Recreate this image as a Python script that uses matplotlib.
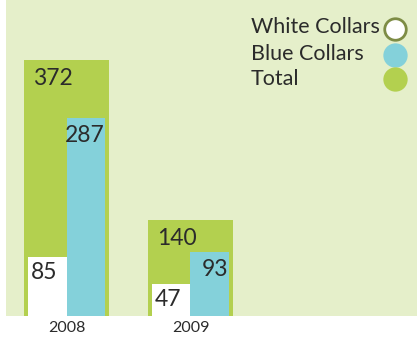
import matplotlib
matplotlib.use("Agg")
import matplotlib.pyplot as plt
import numpy as np

# Data
years = ["2008", "2009"]
total = [372, 140]
blue_collars = [287, 93]
white_collars = [85, 47]
series_names = ["White Collars", "Blue Collars", "Total"]

# Styling
BG = "#e5efca"
GREEN = "#b3d04f"
BLUE = "#84d1da"
WHITE = "#ffffff"
EDGE = "#7d8c45"
TXT = "#2b2b2b"
FONT = "Lato"

W, H = 417, 337
fig = plt.figure(figsize=(W / 100, H / 100), dpi=100, facecolor="white")
ax = fig.add_axes([6 / W, (H - 316) / H, 411 / W, 316 / H])
ax.set_facecolor(BG)

x = np.arange(len(years))
total_w = 0.685
inner_w = 0.314
off = 0.157

ax.bar(x, total, width=total_w, color=GREEN, zorder=1)
ax.bar(x - off, white_collars, width=inner_w, color=WHITE, zorder=2)
ax.bar(x + off, blue_collars, width=inner_w, color=BLUE, zorder=2)

px = 0.72  # points per pixel at 100 dpi
num_kw = dict(fontsize=16.5, color=TXT, family=FONT, va="baseline",
              textcoords="offset points", zorder=3)
for i in range(len(years)):
    ax.annotate(str(total[i]), (x[i], total[i]), xytext=(6 * px, -25 * px),
                ha="right", **num_kw)
    ax.annotate(str(blue_collars[i]), (x[i] + off + inner_w / 2, blue_collars[i]),
                xytext=(-1 * px, -24 * px), ha="right", **num_kw)
    ax.annotate(str(white_collars[i]), (x[i] - off - inner_w / 2, white_collars[i]),
                xytext=(3 * px, -22 * px), ha="left", **num_kw)

ax.set_xlim(-0.488, 2.827)
ax.set_ylim(0, 459)
ax.set_xticks(x)
ax.set_xticklabels(years, fontsize=11.5, color=TXT, family=FONT)
ax.tick_params(axis="x", length=0, pad=3.5)
ax.set_yticks([])
for s in ax.spines.values():
    s.set_visible(False)

# Legend: labels on the left, colour circles on the right
colors = [WHITE, BLUE, GREEN]
edges = [EDGE, BLUE, GREEN]
baselines = [33, 60, 85]
centers = [29, 55, 79]
for name, c, e, yb, yc in zip(series_names, colors, edges, baselines, centers):
    fig.text(251 / W, 1 - yb / H, name, fontsize=15.5, color=TXT, family=FONT,
             ha="left", va="baseline")
    fig.add_artist(plt.Line2D([394.5 / W], [1 - yc / H], marker="o",
                              markersize=15.5, markerfacecolor=c,
                              markeredgecolor=e, markeredgewidth=2.0,
                              linestyle="none", transform=fig.transFigure))

fig.savefig("out.png", dpi=100, facecolor="white")
